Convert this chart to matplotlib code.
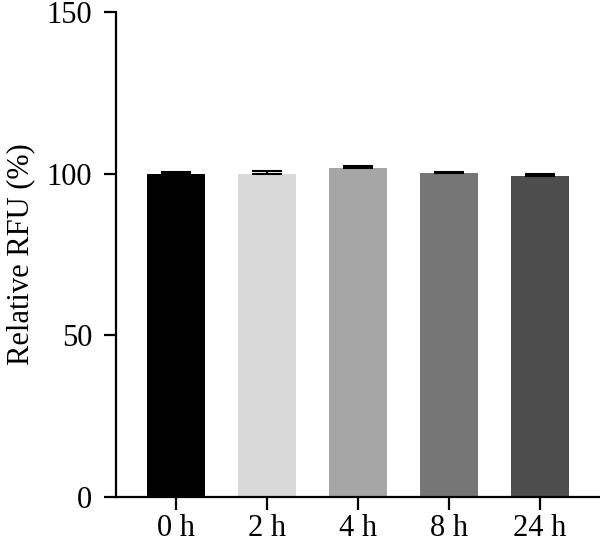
import numpy as np
import matplotlib.pyplot as plt

# Daten
labels = ["0 h", "2 h", "4 h", "8 h", "24 h"]
values = [100.0, 99.9, 101.7, 100.2, 99.3]
errors = [0.5, 1.0, 0.6, 0.5, 0.6]
colors = ["#000000", "#d9d9d9", "#a6a6a6", "#767676", "#4d4d4d"]

plt.rcParams['font.family'] = ['Liberation Serif', 'DejaVu Serif']

fig = plt.figure(figsize=(6, 5.48), dpi=100)
ax = fig.add_axes([0.1933, 0.0931, 0.8067, 0.8847])

x = np.arange(len(labels))
ax.bar(x, values, width=0.64, color=colors)
ax.errorbar(x, values, yerr=[np.zeros(len(errors)), errors], fmt='none',
            ecolor='black', elinewidth=1.5, capsize=11, capthick=1.5)

ax.set_xlim(-0.66, 4.66)
ax.set_ylim(0, 150)
ax.set_yticks([0, 50, 100, 150])
ax.set_xticks(x)
ax.set_xticklabels(labels)
ax.set_ylabel("Relative RFU (%)", fontsize=22, labelpad=8)

for s in ["top", "right"]:
    ax.spines[s].set_visible(False)
for s in ["left", "bottom"]:
    ax.spines[s].set_linewidth(1.6)
ax.tick_params(axis='both', labelsize=22, width=1.6, length=9, direction='out')
ax.tick_params(axis='y', pad=8)
ax.tick_params(axis='x', pad=3)

fig.savefig("out.png", dpi=100)
